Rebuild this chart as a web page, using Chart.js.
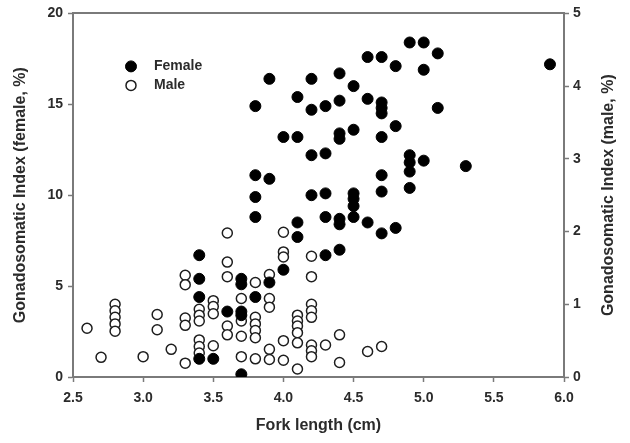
<!DOCTYPE html>
<html>
<head>
<meta charset="utf-8">
<script src="https://cdn.jsdelivr.net/npm/chart.js@4.4.1/dist/chart.umd.min.js"></script>
<style>
  html, body { margin: 0; padding: 0; background: #fff; }
  #wrap { width: 630px; height: 443px; position: relative; }
</style>
</head>
<body>
<div id="wrap"><canvas id="gsiChart"></canvas></div>
<script>
// --- data ---
// fork length (cm) and the GSI values measured at that length
const femaleLengths = [3.4, 3.5, 3.6, 3.7, 3.8, 3.9, 4.0, 4.1, 4.2, 4.3, 4.4, 4.5, 4.6, 4.7, 4.8, 4.9, 5.0, 5.1, 5.3, 5.9];
const femaleGsi = [
    [6.7, 5.4, 4.4, 1.0],
    [1.0],
    [3.6],
    [5.4, 5.1, 3.6, 3.4, 0.15],
    [14.9, 11.1, 9.9, 8.8, 4.4],
    [16.4, 10.9, 5.2],
    [13.2, 5.9],
    [15.4, 13.2, 8.5, 7.7],
    [16.4, 14.7, 12.2, 10.0],
    [14.9, 12.3, 10.1, 8.8, 6.7],
    [16.7, 15.2, 13.4, 13.1, 8.7, 8.4, 7.0],
    [16.0, 13.6, 10.1, 9.8, 9.4, 8.8],
    [17.6, 15.3, 8.5],
    [17.6, 15.1, 14.8, 14.5, 13.2, 11.1, 10.2, 7.9],
    [17.1, 13.8, 8.2],
    [18.4, 12.2, 11.8, 11.3, 10.4],
    [18.4, 16.9, 11.9],
    [17.8, 14.8],
    [11.6],
    [17.2]
];

const maleLengths = [2.6, 2.7, 2.8, 3.0, 3.1, 3.2, 3.3, 3.4, 3.5, 3.6, 3.7, 3.8, 3.9, 4.0, 4.1, 4.2, 4.3, 4.4, 4.6, 4.7];
const maleGsi = [
    [0.67],
    [0.27],
    [1.00, 0.91, 0.82, 0.73, 0.63],
    [0.28],
    [0.86, 0.65],
    [0.38],
    [1.40, 1.27, 0.81, 0.71, 0.19],
    [0.93, 0.85, 0.77, 0.51, 0.42, 0.33],
    [1.05, 0.97, 0.87, 0.43],
    [1.98, 1.58, 1.38, 0.70, 0.58],
    [1.08, 0.77, 0.56, 0.28],
    [1.30, 0.82, 0.73, 0.64, 0.54, 0.25],
    [1.41, 1.08, 0.96, 0.38, 0.24],
    [1.99, 1.72, 1.65, 0.50, 0.23],
    [0.85, 0.77, 0.70, 0.61, 0.47, 0.11],
    [1.66, 1.38, 1.00, 0.91, 0.82, 0.44, 0.36, 0.28],
    [0.44],
    [0.58, 0.20],
    [0.35],
    [0.42]
];

const xTicks = [2.5, 3.0, 3.5, 4.0, 4.5, 5.0, 5.5, 6.0];
const femaleTicks = [0, 5, 10, 15, 20];
const maleTicks = [0, 1, 2, 3, 4, 5];

// flatten length/value groups into {x, y} points
function toPoints(lengths, groups) {
    const pts = [];
    lengths.forEach((len, i) => {
        groups[i].forEach(v => pts.push({ x: len, y: v }));
    });
    return pts;
}

const AXIS_COL = '#7a7a7a';
const TEXT_COL = '#2b2b2b';
const FONT = 'Arial, "Liberation Sans", sans-serif';

// legend drawn inside the plot, top-left
const innerLegend = {
    id: 'innerLegend',
    afterDraw(chart) {
        const ctx = chart.ctx;
        const area = chart.chartArea;
        const x = area.left + 58;
        const rows = [area.top + 53, area.top + 72];
        ctx.save();
        chart.data.datasets.forEach((ds, i) => {
            const y = rows[i];
            ctx.beginPath();
            ctx.arc(x, y, ds.pointRadius, 0, Math.PI * 2);
            ctx.fillStyle = ds.backgroundColor;
            ctx.fill();
            ctx.lineWidth = ds.borderWidth;
            ctx.strokeStyle = ds.borderColor;
            ctx.stroke();
            ctx.fillStyle = TEXT_COL;
            ctx.font = 'bold 14px ' + FONT;
            ctx.textBaseline = 'middle';
            ctx.textAlign = 'left';
            ctx.fillText(ds.label, x + 23, y);
        });
        ctx.restore();
    }
};

// right-hand title, reading bottom to top like the left one
const rightTitle = {
    id: 'rightTitle',
    afterDraw(chart) {
        const ctx = chart.ctx;
        const area = chart.chartArea;
        ctx.save();
        ctx.translate(609, (area.top + area.bottom) / 2);
        ctx.rotate(-Math.PI / 2);
        ctx.fillStyle = TEXT_COL;
        ctx.font = 'bold 16px ' + FONT;
        ctx.textAlign = 'center';
        ctx.textBaseline = 'middle';
        ctx.fillText('Gonadosomatic Index (male, %)', 0, 0);
        ctx.restore();
    }
};

function fixedTicks(list) {
    return scale => { scale.ticks = list.map(v => ({ value: v })); };
}

const tickFont = { family: FONT, size: 14, weight: 'bold' };
const titleFont = { family: FONT, size: 16, weight: 'bold' };

new Chart(document.getElementById('gsiChart'), {
    type: 'scatter',
    data: {
        datasets: [
            {
                label: 'Female',
                data: toPoints(femaleLengths, femaleGsi),
                yAxisID: 'y',
                pointRadius: 5.5,
                pointHoverRadius: 5.5,
                backgroundColor: '#000',
                borderColor: '#000',
                borderWidth: 1,
                order: 0
            },
            {
                label: 'Male',
                data: toPoints(maleLengths, maleGsi),
                yAxisID: 'y2',
                pointRadius: 5,
                pointHoverRadius: 5,
                backgroundColor: '#fff',
                borderColor: '#1e1e1e',
                borderWidth: 1.5,
                order: 1
            }
        ]
    },
    options: {
        responsive: true,
        maintainAspectRatio: false,
        animation: false,
        layout: { padding: 0 },
        plugins: { legend: { display: false }, tooltip: { enabled: false } },
        scales: {
            x: {
                type: 'linear',
                position: 'bottom',
                min: 2.5, max: 6.0,
                afterBuildTicks: fixedTicks(xTicks),
                afterFit: s => { s.height = 66; },
                grid: { drawOnChartArea: false, tickLength: 5, tickColor: AXIS_COL, tickWidth: 1.5 },
                border: { color: AXIS_COL, width: 2 },
                ticks: { color: TEXT_COL, font: tickFont, padding: 8, callback: v => v.toFixed(1) },
                title: { display: true, text: 'Fork length (cm)', color: TEXT_COL, font: titleFont, padding: { top: 0, bottom: 8 } }
            },
            xTop: {
                type: 'linear',
                position: 'top',
                min: 2.5, max: 6.0,
                afterFit: s => { s.height = 13; },
                grid: { display: false },
                border: { color: AXIS_COL, width: 2 },
                ticks: { display: false }
            },
            y: {
                type: 'linear',
                position: 'left',
                min: 0, max: 20,
                afterBuildTicks: fixedTicks(femaleTicks),
                afterFit: s => { s.width = 73; },
                grid: { drawOnChartArea: false, tickLength: 5, tickColor: AXIS_COL, tickWidth: 1.5 },
                border: { color: AXIS_COL, width: 2 },
                ticks: { color: TEXT_COL, font: tickFont, padding: 5 },
                title: { display: true, text: 'Gonadosomatic Index (female, %)', color: TEXT_COL, font: titleFont, padding: { top: 11, bottom: 0 } }
            },
            y2: {
                type: 'linear',
                position: 'right',
                min: 0, max: 5,
                afterBuildTicks: fixedTicks(maleTicks),
                afterFit: s => { s.width = 66; },
                grid: { drawOnChartArea: false, tickLength: 5, tickColor: AXIS_COL, tickWidth: 1.5 },
                border: { color: AXIS_COL, width: 2 },
                ticks: { color: TEXT_COL, font: tickFont, padding: 4 }
            }
        }
    },
    plugins: [innerLegend, rightTitle]
});
</script>
</body>
</html>
